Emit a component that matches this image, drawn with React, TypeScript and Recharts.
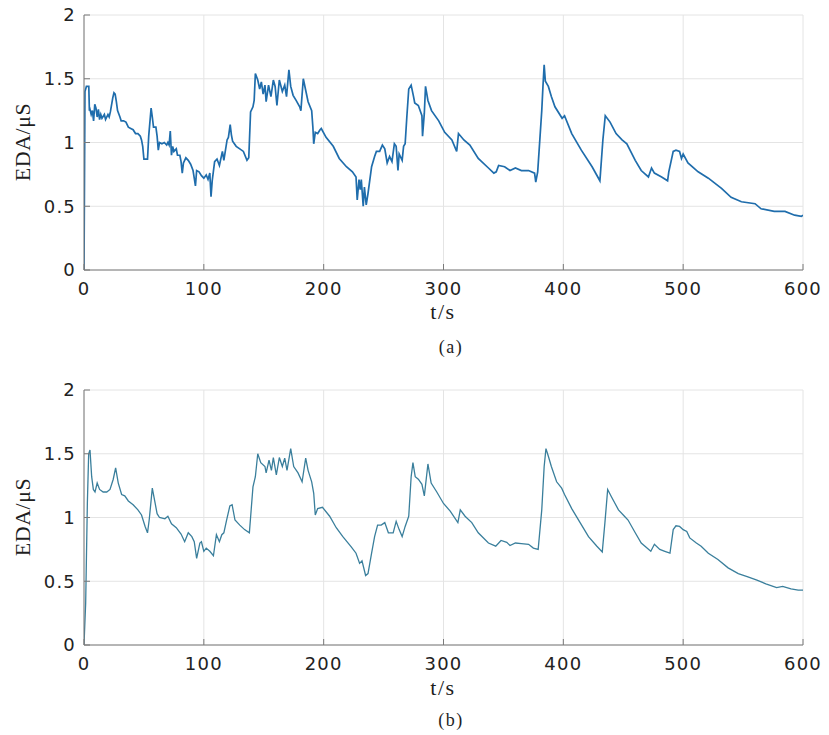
import React from "react";
import { LineChart, Line, XAxis, YAxis, CartesianGrid } from "recharts";

const X_TICKS = [0, 100, 200, 300, 400, 500, 600];
const Y_TICKS = [0, 0.5, 1, 1.5, 2];

// (a) raw EDA signal
const timeA = [
  0, 0.8, 2, 4, 4.5, 5, 6, 7, 8, 9, 10, 11, 12, 13, 14, 15, 17, 18, 20, 21, 22, 24, 25, 26, 27, 28, 30, 31, 33,
  35, 37, 39, 41, 43, 45, 47, 48, 49, 50, 52, 53, 54, 56, 57, 58, 60, 61, 62, 63, 65, 67, 69, 70, 71, 72, 73,
  74, 75, 77, 78, 80, 81, 82, 83, 85, 87, 89, 91, 92, 93, 94, 96, 98, 100, 102, 103.5, 105, 106, 107, 109,
  111, 113, 115.5, 116.7, 119.4, 120.5, 122, 123, 124, 127, 130, 133, 136, 137.5, 139, 141, 142, 143, 145,
  146.6, 148, 149.5, 151, 152, 154, 156, 158, 159.5, 161, 163, 165.5, 167.5, 169, 171, 172.5, 174.5, 177,
  180, 181, 183, 185, 187, 190, 191, 191.7, 193, 195, 197, 198, 202, 208, 213, 219, 224, 227, 228, 229.5,
  230.5, 231.4, 233, 234, 235.5, 237, 240, 242.5, 244, 246.7, 249, 251, 253, 255, 257, 259, 260.5, 262, 263,
  265.5, 266.7, 268, 269.4, 271, 273, 275, 276, 279, 282, 282.5, 284, 285, 287, 290, 296, 301, 307, 311,
  312.5, 317, 322, 329, 337.5, 342, 344, 346, 351, 355.5, 360, 365, 371, 376, 377, 378.6, 382, 383, 384, 385,
  387.5, 390, 393, 399, 401, 407, 415, 424, 430.5, 431, 433, 435, 439, 444, 449, 453, 460, 465, 471, 473.6,
  476, 482, 487, 488, 491.7, 494, 497, 498.6, 500, 504, 512.5, 521, 532, 540, 548.6, 560, 565, 576, 585, 593,
  598.6, 600,
];
const edaA = [
  0, 1.4, 1.44, 1.44, 1.25, 1.26, 1.22, 1.25, 1.17, 1.3, 1.27, 1.2, 1.26, 1.18, 1.22, 1.19, 1.22, 1.18, 1.22,
  1.2, 1.24, 1.35, 1.39, 1.38, 1.32, 1.25, 1.2, 1.17, 1.17, 1.16, 1.12, 1.11, 1.1, 1.07, 1.07, 1.05, 1.02,
  0.97, 0.87, 0.87, 0.87, 1.05, 1.27, 1.2, 1.12, 1.12, 1.05, 0.94, 1.0, 0.99, 1.0, 0.98, 1.0, 0.98, 1.09, 0.9,
  0.97, 0.93, 0.95, 0.9, 0.9, 0.85, 0.76, 0.84, 0.88, 0.86, 0.83, 0.78, 0.72, 0.66, 0.78, 0.77, 0.74, 0.72,
  0.745, 0.71, 0.76, 0.575, 0.7, 0.85, 0.87, 0.82, 0.93, 0.86, 1.02, 1.04, 1.14, 1.06, 1.01, 0.97, 0.95, 0.93,
  0.86, 0.88, 1.24, 1.28, 1.33, 1.54, 1.49, 1.42, 1.475, 1.38, 1.45, 1.32, 1.45, 1.36, 1.49, 1.44, 1.29, 1.49,
  1.4, 1.45, 1.36, 1.57, 1.44, 1.37, 1.33, 1.28, 1.25, 1.5, 1.41, 1.32, 1.25, 1.12, 0.99, 1.08, 1.07, 1.1,
  1.11, 1.04, 0.97, 0.875, 0.81, 0.77, 0.73, 0.55, 0.71, 0.63, 0.71, 0.5, 0.65, 0.51, 0.6, 0.81, 0.89, 0.93,
  0.93, 0.98, 0.95, 0.84, 0.89, 0.85, 0.99, 0.97, 0.78, 0.91, 0.86, 0.97, 0.99, 1.2, 1.42, 1.45, 1.36, 1.31,
  1.29, 1.21, 1.05, 1.23, 1.44, 1.33, 1.25, 1.17, 1.08, 1.02, 0.93, 1.07, 1.02, 0.98, 0.875, 0.8, 0.76, 0.77,
  0.82, 0.81, 0.78, 0.8, 0.78, 0.78, 0.76, 0.69, 0.77, 1.25, 1.44, 1.61, 1.48, 1.44, 1.36, 1.28, 1.19, 1.21,
  1.07, 0.94, 0.81, 0.7, 0.76, 1.02, 1.21, 1.16, 1.07, 1.02, 0.99, 0.86, 0.78, 0.73, 0.8, 0.76, 0.73, 0.7,
  0.77, 0.93, 0.94, 0.93, 0.875, 0.91, 0.84, 0.77, 0.72, 0.64, 0.57, 0.535, 0.52, 0.48, 0.46, 0.46, 0.43, 0.42,
  0.43,
];

// (b) filtered EDA signal
const timeB = [
  0, 1.4, 2.8, 3.9, 5, 6.4, 7.8, 9.2, 11, 13, 16, 19, 21.7, 24.4, 26.4, 28.6, 31.4, 34, 37, 41, 45, 48, 51,
  53, 54.4, 57, 59, 61, 63, 67.5, 70, 73, 77, 81, 84, 87, 90, 92, 94, 96.7, 98, 100, 102, 105, 108, 110.5, 113,
  115, 116.7, 119, 121.7, 123.6, 126, 130, 134, 138, 141, 143, 145, 147.5, 151, 152, 154.4, 156.4, 158, 160.5,
  163, 165.5, 167.5, 169.4, 172.5, 175, 178.6, 182, 185, 187, 190, 191.7, 193, 195, 199, 205, 210.5, 216, 223,
  227, 230, 232, 235, 237, 240, 242.5, 245, 248, 251, 254, 258, 260.5, 263, 265.5, 268, 271, 273, 274.5,
  276.4, 279, 282, 284, 287, 289.7, 294.4, 300, 305.6, 312, 314, 318, 323.6, 329, 337.5, 343.6, 348, 352.8,
  355.5, 360, 365, 371, 375, 379, 382, 384, 385.5, 387.5, 390, 394.4, 398.6, 401, 407, 414, 421, 428, 432.5,
  434.7, 437, 440, 446, 451, 454, 460, 465, 473, 476, 480.5, 484.7, 489, 491.7, 494, 497, 500, 503, 505.5, 511,
  515, 521, 529, 537.5, 546, 554, 561, 569, 578, 583, 590, 596, 600,
];
const edaB = [
  0, 0.33, 1.11, 1.5, 1.53, 1.32, 1.22, 1.2, 1.27, 1.22, 1.2, 1.2, 1.22, 1.3, 1.39, 1.27, 1.18, 1.17, 1.13,
  1.1, 1.06, 1.02, 0.93, 0.88, 0.98, 1.23, 1.13, 1.03, 1.0, 0.99, 1.01, 0.95, 0.92, 0.87, 0.81, 0.88, 0.85,
  0.81, 0.68, 0.8, 0.81, 0.735, 0.76, 0.735, 0.7, 0.865, 0.81, 0.865, 0.88, 0.98, 1.09, 1.1, 0.98, 0.94, 0.905,
  0.88, 1.24, 1.32, 1.5, 1.43, 1.4, 1.35, 1.45, 1.37, 1.47, 1.335, 1.47, 1.4, 1.465, 1.37, 1.54, 1.4, 1.35,
  1.28, 1.465, 1.37, 1.28, 1.19, 1.02, 1.07, 1.08, 1.01, 0.92, 0.85, 0.77, 0.72, 0.64, 0.66, 0.545, 0.56, 0.72,
  0.85, 0.94, 0.94, 0.96, 0.88, 0.88, 0.97, 0.905, 0.85, 0.93, 1.01, 1.32, 1.43, 1.32, 1.3, 1.26, 1.17, 1.42,
  1.27, 1.2, 1.11, 1.05, 0.96, 1.06, 1.01, 0.96, 0.88, 0.8, 0.775, 0.82, 0.805, 0.78, 0.8, 0.795, 0.79, 0.76,
  0.75, 1.06, 1.4, 1.54, 1.48, 1.4, 1.28, 1.23, 1.18, 1.07, 0.96, 0.85, 0.775, 0.73, 0.96, 1.22, 1.165, 1.06,
  1.01, 0.98, 0.88, 0.8, 0.735, 0.79, 0.75, 0.735, 0.72, 0.905, 0.935, 0.93, 0.905, 0.89, 0.84, 0.8, 0.775,
  0.72, 0.67, 0.605, 0.56, 0.535, 0.51, 0.48, 0.45, 0.46, 0.44, 0.43, 0.43,
];

const dataA = timeA.map((t, i) => ({ t, eda: edaA[i] }));
const dataB = timeB.map((t, i) => ({ t, eda: edaB[i] }));

const AXIS_COLOR = "#7a7a7a";
const tickStyle = {
  fill: "#222",
  fontSize: 18,
  fontFamily: "'DejaVu Sans', sans-serif",
  letterSpacing: 1.2,
};

const serif = "'Liberation Serif', 'DejaVu Serif', serif";

function Panel({ data, color, width }: { data: { t: number; eda: number }[]; color: string; width: number }) {
  return (
    <LineChart width={829} height={300} data={data} margin={{ top: 15, right: 26, left: 0, bottom: 0 }}>
      <CartesianGrid stroke="#e4e4e4" strokeWidth={1} />
      <XAxis
        dataKey="t"
        type="number"
        domain={[0, 600]}
        ticks={X_TICKS}
        height={30}
        stroke={AXIS_COLOR}
        tickSize={-6}
        tickMargin={18}
        tick={tickStyle}
        interval={0}
        allowDataOverflow
      />
      <XAxis
        xAxisId="top"
        orientation="top"
        dataKey="t"
        type="number"
        domain={[0, 600]}
        ticks={X_TICKS}
        height={0}
        stroke={AXIS_COLOR}
        tickSize={-6}
        tick={false}
      />
      <YAxis
        domain={[0, 2]}
        ticks={Y_TICKS}
        width={84}
        stroke={AXIS_COLOR}
        tickSize={-6}
        tickMargin={14}
        tick={tickStyle}
        interval={0}
        allowDataOverflow
      />
      <YAxis
        yAxisId="right"
        orientation="right"
        domain={[0, 2]}
        ticks={Y_TICKS}
        width={0}
        stroke={AXIS_COLOR}
        tickSize={-6}
        tick={false}
      />
      <Line
        dataKey="eda"
        type="linear"
        stroke={color}
        strokeWidth={width}
        dot={false}
        isAnimationActive={false}
      />
    </LineChart>
  );
}

function Label({ text, x, y, size, rotate }: { text: string; x: number; y: number; size: number; rotate?: boolean }) {
  return (
    <div
      style={{
        position: "absolute",
        left: x,
        top: y,
        transform: `translate(-50%, -50%)${rotate ? " rotate(-90deg)" : ""}`,
        fontFamily: serif,
        fontSize: size,
        color: "#1e1e1e",
        whiteSpace: "nowrap",
        letterSpacing: rotate ? 0.5 : 1.5,
        lineHeight: 1,
      }}
    >
      {text}
    </div>
  );
}

export default function App() {
  return (
    <div style={{ position: "absolute", left: 0, top: 0, width: 829, height: 735, background: "#fff" }}>
      <div style={{ position: "absolute", left: 0, top: 0 }}>
        <Panel data={dataA} color="#1f6dac" width={1.7} />
      </div>
      <div style={{ position: "absolute", left: 0, top: 375 }}>
        <Panel data={dataB} color="#3a7f9c" width={1.3} />
      </div>
      <Label text="EDA/μS" x={23} y={142} size={22} rotate />
      <Label text="t/s" x={443} y={312} size={22} />
      <Label text="(a)" x={451} y={347} size={18} />
      <Label text="EDA/μS" x={23} y={517} size={22} rotate />
      <Label text="t/s" x={443} y={688} size={22} />
      <Label text="(b)" x={451} y={720} size={18} />
    </div>
  );
}
